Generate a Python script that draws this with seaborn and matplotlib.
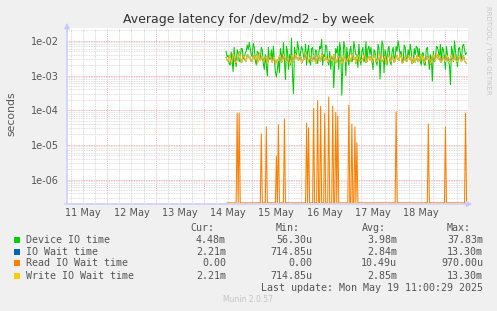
import numpy as np
import pandas as pd
import matplotlib
matplotlib.use("Agg")
import matplotlib.pyplot as plt
import seaborn as sns
from matplotlib.patches import Rectangle

# ---------------- data (values in milliseconds, 30-min samples from 14 May ~11:00) ----------------
start_day = 3.48   # days since 11 May 00:00 (first full-hour sample)

# samples on the hour
device_io_ms = [
    3.5, 2.2, 4.8, 1.3, 3.0, 5.5, 2.5, 6.0, 3.2, 4.5, 7.5, 9.0,
    4.0, 8.5, 2.8, 5.0, 3.5, 6.5, 2.2, 4.0, 0.96, 3.0, 5.5, 7.0,
    1.3, 1.5, 1.2, 4.0, 8.9, 0.77, 5.0, 4.0, 12.0, 0.3, 4.5, 9.5, 3.0, 7.0,
    3.5, 8.0, 5.0, 2.5, 6.0, 3.0, 5.5, 2.2, 7.0, 11.0,
    4.0, 7.5, 2.5, 5.0, 3.5, 0.45, 6.0, 7.0, 9.0, 0.27, 9.5, 1.0,
    3.0, 5.0, 2.5, 9.5, 4.0, 1.7, 3.5, 5.0, 2.5, 9.5, 6.0, 4.0,
    3.0, 5.5, 2.5, 8.0, 0.8, 10.0, 1.2, 4.0, 6.0, 2.5, 5.0, 3.0,
    7.0, 10.0, 4.0, 2.5, 7.5, 3.0, 5.5, 8.0, 2.2, 6.0, 7.0, 3.5,
    2.5, 4.5, 2.0, 6.0, 3.0, 4.0, 0.69, 2.5, 7.0, 5.0, 8.0, 6.5,
    3.5, 7.0, 2.5, 0.55, 5.0, 10.0, 3.0, 6.0, 4.0, 7.0, 5.5, 4.48,
]
# samples on the half hour (each just before the matching hourly sample)
device_io_half_ms = [
    5.0, 3.8, 2.0, 2.6, 6.5, 1.8, 4.5, 2.8, 6.0, 3.0, 5.0, 5.5,
    6.0, 3.5, 6.5, 2.0, 4.5, 3.0, 5.5, 1.5, 2.0, 6.5, 3.0, 2.5,
    2.8, 0.9, 3.0, 6.0, 2.5, 2.5, 7.0, 1.5, 2.0, 1.0, 6.5, 3.5, 6.0, 4.5,
    5.5, 3.0, 2.0, 7.5, 2.0, 6.5, 3.0, 5.0, 4.0, 6.0,
    2.0, 3.5, 7.0, 2.0, 1.5, 3.0, 2.5, 4.5, 1.5, 5.0, 2.0, 6.5,
    6.5, 2.0, 7.0, 3.0, 6.0, 4.0, 8.0, 2.0, 6.5, 3.0, 2.5, 7.0,
    6.5, 1.5, 5.0, 2.0, 6.0, 3.5, 7.5, 5.5, 2.0, 7.0, 2.0, 6.5,
    3.5, 5.0, 6.5, 5.0, 2.5, 6.5, 3.0, 3.5, 5.0, 2.5, 4.0, 6.5,
    6.0, 2.0, 4.5, 2.0, 6.5, 1.5, 3.0, 5.0, 3.0, 6.5, 3.0, 2.5,
    5.5, 1.5, 4.0, 2.0, 7.0, 2.5, 5.0, 1.8, 6.5, 3.0, 8.0, 4.0,
]

write_wait_ms = [
    2.8, 3.5, 2.2, 4.2, 2.5, 3.0, 4.8, 2.4, 3.6, 2.7, 4.0, 3.2,
    2.6, 3.8, 2.9, 2.3, 4.5, 3.1, 2.5, 3.4, 2.2, 3.9, 2.8, 3.3,
    2.1, 2.9, 3.6, 2.4, 4.1, 2.7, 3.2, 2.0, 3.7, 2.6, 4.4, 2.9,
    3.5, 2.3, 3.0, 4.6, 2.5, 3.3, 2.8, 3.9, 2.2, 3.4, 2.7, 4.2,
    2.9, 3.6, 2.4, 3.1, 2.6, 4.0, 2.3, 3.5, 2.8, 2.1, 3.8, 2.5,
    3.2, 2.7, 4.3, 2.9, 2.2, 3.6, 2.6, 3.0, 4.1, 2.4, 3.3, 2.8,
    2.3, 3.7, 2.6, 3.1, 4.5, 2.5, 3.4, 2.2, 3.9, 2.7, 3.2, 2.4,
    3.6, 2.9, 4.2, 2.3, 3.0, 2.6, 3.8, 2.8, 2.2, 3.5, 3.1, 2.5,
    4.0, 2.7, 2.3, 3.4, 2.9, 2.1, 3.6, 2.6, 4.4, 3.0, 2.5, 3.3,
    2.8, 3.9, 2.4, 3.2, 2.7, 4.1, 2.5, 3.6, 2.9, 3.3, 2.6, 2.21,
]
write_wait_half_ms = [
    3.3, 2.6, 3.9, 2.9, 3.8, 2.3, 3.2, 3.9, 2.5, 3.6, 2.6, 3.9,
    3.4, 2.5, 3.7, 3.9, 2.6, 2.7, 3.6, 2.6, 3.5, 2.7, 3.6, 2.4,
    3.4, 2.5, 2.7, 3.8, 2.6, 3.5, 2.5, 3.3, 2.4, 3.9, 2.7, 3.6,
    2.8, 3.7, 2.6, 3.0, 3.8, 2.5, 3.5, 2.6, 3.7, 2.5, 3.9, 2.6,
    3.7, 2.7, 3.5, 2.5, 3.6, 2.8, 3.7, 2.4, 3.6, 3.2, 2.5, 3.8,
    2.6, 3.8, 2.5, 3.7, 3.4, 2.7, 3.9, 2.6, 2.8, 3.7, 2.5, 3.6,
    3.5, 2.6, 3.9, 2.5, 2.8, 3.7, 2.6, 3.6, 2.6, 3.8, 2.5, 3.5,
    2.6, 3.8, 2.7, 3.6, 2.4, 3.5, 2.6, 3.7, 3.4, 2.6, 2.4, 3.8,
    2.8, 3.6, 3.7, 2.5, 3.5, 3.4, 2.4, 3.9, 2.7, 3.6, 3.8, 2.4,
    3.7, 2.5, 3.6, 2.6, 3.8, 2.7, 3.4, 2.5, 3.6, 2.5, 3.7, 2.4,
]
# total IO wait is practically identical to the write wait (reads are ~0)
io_wait_ms = list(write_wait_ms)
io_wait_half_ms = list(write_wait_half_ms)

# read IO wait: zero except these spikes (day since 11 May 00:00, seconds)
read_spike_days = [3.685, 3.733, 4.188, 4.292, 4.493, 4.540, 4.665, 5.135, 5.170,
                   5.273, 5.362, 5.424, 5.501, 5.576, 5.658, 5.720, 5.762, 6.004,
                   6.072, 6.135, 6.176, 6.977, 7.646, 7.992, 8.412]
read_spike_vals = [8.2e-5, 8.2e-5, 2.1e-5, 3.3e-5, 4.7e-6, 3.8e-5, 5.6e-5, 4.2e-5, 3.1e-5,
                   1.14e-4, 1.9e-4, 1.3e-4, 8.0e-5, 2.4e-4, 1.3e-4, 8.7e-5, 6.8e-5, 1.4e-4,
                   4.0e-5, 3.3e-5, 1.15e-5, 9.0e-5, 4.0e-5, 3.3e-5, 8.2e-5]
read_steps = 240   # 30-min samples

day_labels = ["11 May", "12 May", "13 May", "14 May", "15 May", "16 May", "17 May", "18 May"]
ytick_vals = [1e-6, 1e-5, 1e-4, 1e-3, 1e-2]

legend_names = ["Device IO time", "IO Wait time", "Read IO Wait time", "Write IO Wait time"]
legend_colors = ["#00cc00", "#0066b3", "#ff8000", "#ffcc00"]
cur_vals = ["4.48m", "2.21m", "0.00", "2.21m"]
min_vals = ["56.30u", "714.85u", "0.00", "714.85u"]
avg_vals = ["3.98m", "2.84m", "10.49u", "2.85m"]
max_vals = ["37.83m", "13.30m", "970.00u", "13.30m"]


def interleave(half, full):
    out = []
    for h, f in zip(half, full):
        out.extend([h, f])
    return np.array(out) * 1e-3


# ---------------- figure ----------------
W, H = 497, 311
fig = plt.figure(figsize=(W / 100, H / 100), dpi=100, facecolor="#f0f0f0")


def fx(px):
    return px / W


def fy(py):
    return 1 - py / H


ax = fig.add_axes([fx(66.7), fy(203.3), fx(468) - fx(66.7), fy(28) - fy(203.3)])
ax.set_facecolor("white")
ymin, ymax = 2.06e-7, 0.0235
xmin, xmax = 0.159, 8.468

# grid
for d in np.arange(0, 9, 0.25):
    if xmin < d < xmax:
        major = abs(d - round(d)) < 1e-9
        ax.axvline(d, color="#e9a0a0" if major else "#cfcfcf", lw=0.6,
                   ls=(0, (1, 1)) if not major else (0, (1, 1.5)), zorder=0)
for e in range(-7, -1):
    for s in range(1, 10):
        v = s * 10.0 ** e
        if ymin < v < ymax:
            ax.axhline(v, color="#e9a0a0" if s == 1 else "#d4d4d4", lw=0.6,
                       ls=(0, (1, 1)), zorder=0)

n_main = 2 * len(device_io_ms)
t_main = start_day - 1 / 48.0 + np.arange(n_main) / 48.0
df = pd.DataFrame({
    "t": t_main,
    "device": interleave(device_io_half_ms, device_io_ms),
    "iowait": interleave(io_wait_half_ms, io_wait_ms),
    "write": interleave(write_wait_half_ms, write_wait_ms),
})
t_read = start_day + np.arange(read_steps) / 48.0
read_vals = np.zeros(read_steps)
for d, v in zip(read_spike_days, read_spike_vals):
    i = int(round((d - start_day) * 48))
    read_vals[i] = v
df_read = pd.DataFrame({"t": t_read, "read": np.maximum(read_vals, ymin * 1.03)})

kw = dict(estimator=None, sort=False, legend=False, ax=ax, lw=0.75)
sns.lineplot(data=df, x="t", y="device", color=legend_colors[0], **kw)
sns.lineplot(data=df, x="t", y="iowait", color=legend_colors[1], **kw)
sns.lineplot(data=df_read, x="t", y="read", color=legend_colors[2], **kw)
sns.lineplot(data=df, x="t", y="write", color=legend_colors[3], **kw)

ax.set_yscale("log")
ax.set_ylim(ymin, ymax)
ax.set_xlim(xmin, xmax)
ax.set_yticks(ytick_vals)
ax.set_yticklabels([f"{v:.0e}" for v in ytick_vals])
ax.yaxis.set_minor_locator(matplotlib.ticker.NullLocator())
ax.set_xticks(np.arange(len(day_labels)) + 0.5)
ax.set_xticklabels(day_labels)
ax.tick_params(axis="both", length=0, labelsize=7, colors="#555555")
ax.tick_params(axis="y", pad=5.5)
ax.tick_params(axis="x", pad=3.2)
ax.set_xlabel("")
ax.set_ylabel("")
for sp in ax.spines.values():
    sp.set_visible(False)

# axis lines with arrows
acol = "#c8c8ff"
fig.add_artist(matplotlib.patches.FancyArrowPatch(
    (fx(67), fy(206)), (fx(67), fy(20)), transform=fig.transFigure,
    arrowstyle="-|>", mutation_scale=8, color=acol, lw=1))
fig.add_artist(matplotlib.patches.FancyArrowPatch(
    (fx(62), fy(204)), (fx(475), fy(204)), transform=fig.transFigure,
    arrowstyle="-|>", mutation_scale=8, color=acol, lw=1))

# texts
fig.text(fx(248.5), fy(19.5), "Average latency for /dev/md2 - by week", ha="center",
         va="center", fontsize=9, color="#333333")
fig.text(fx(11), fy(114), "seconds", rotation=90, ha="center", va="center",
         fontsize=7.8, color="#555555")
fig.text(fx(488), fy(6), "RRDTOOL / TOBI OETIKER", rotation=270, ha="center", va="top",
         fontsize=5, color="#c8c8c8")
fig.text(fx(248), fy(300), "Munin 2.0.57", ha="center", va="center", fontsize=5.5,
         color="#c4c4c4")

mono = dict(family="DejaVu Sans Mono", fontsize=7.2, color="#555555", va="center")
for x, h in zip([190, 276, 361.7, 446.7], ["Cur:", "Min:", "Avg:", "Max:"]):
    fig.text(fx(x), fy(228.3), h, ha="left", **mono)
rows = [240, 251.7, 263.3, 275.7]
for i, y in enumerate(rows):
    fig.add_artist(Rectangle((fx(14), fy(y + 3)), 6 / W, 6 / H, transform=fig.transFigure,
                             color=legend_colors[i], lw=0))
    fig.text(fx(26), fy(y), legend_names[i], ha="left", **mono)
    fig.text(fx(226), fy(y), cur_vals[i], ha="right", **mono)
    fig.text(fx(312), fy(y), min_vals[i], ha="right", **mono)
    fig.text(fx(397), fy(y), avg_vals[i], ha="right", **mono)
    fig.text(fx(483), fy(y), max_vals[i], ha="right", **mono)
fig.text(fx(483), fy(287.7), "Last update: Mon May 19 11:00:29 2025", ha="right", **mono)

fig.savefig("out.png", dpi=100, facecolor=fig.get_facecolor())
